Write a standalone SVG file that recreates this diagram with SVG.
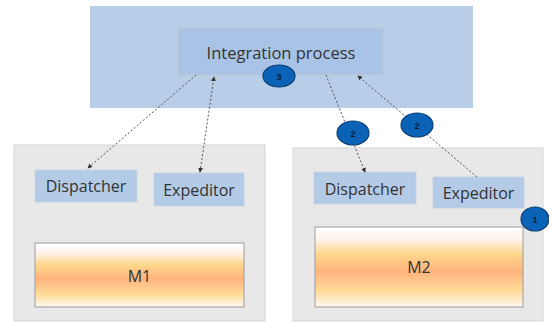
<svg xmlns="http://www.w3.org/2000/svg" width="549" height="322" viewBox="0 0 549 322">
<defs>
<linearGradient id="mg" x1="0" y1="0" x2="0" y2="1">
<stop offset="0" stop-color="#FFFFFF"/>
<stop offset="0.15" stop-color="#FFF3EE"/>
<stop offset="0.34" stop-color="#FFD68C"/>
<stop offset="0.56" stop-color="#FFB47E"/>
<stop offset="0.8" stop-color="#FFDB98"/>
<stop offset="1" stop-color="#FFF8F2"/>
</linearGradient>
<marker id="ah" viewBox="0 0 6 6" refX="5" refY="3" markerWidth="5" markerHeight="5" orient="auto-start-reverse" markerUnits="userSpaceOnUse">
<path d="M0,0 L6,3 L0,6 Z" fill="#333"/>
</marker>
</defs>
<style>
.cont{fill:#E8E8E8;stroke:#D5D5D5;stroke-width:1}
.sm{fill:#B4CBE7;stroke:#C5D3E3;stroke-width:1}
.mb{fill:url(#mg);stroke:#9C9C9C;stroke-width:1}
.t{font-family:"Open Sans","Noto Sans",sans-serif;fill:#333333;text-anchor:middle}
.conn{fill:none;stroke:#555;stroke-width:1;stroke-dasharray:2,2}
.badge{fill:#0A63B7;stroke:#0C3F70;stroke-width:1.2}
.bt{font-family:"Liberation Sans",sans-serif;font-size:9px;font-weight:bold;fill:#0B1C33;text-anchor:middle}
</style>
<rect width="549" height="322" fill="#FFFFFF"/>
<g id="integration-layer">
<rect x="90" y="6" width="383" height="102" fill="#B8CDE8"/>
</g>
<g id="integration-process">
<rect x="178" y="28" width="205" height="47" fill="#A8C3E6" stroke="#BCC7D2" stroke-width="1"/>
<text class="t" x="281" y="59" font-size="16.5">Integration process</text>
</g>
<g id="m1-container">
<rect class="cont" x="14" y="145" width="251" height="176"/>
</g>
<g id="m2-container">
<rect class="cont" x="293" y="148" width="250" height="173"/>
</g>
<g id="dispatcher-1">
<rect class="sm" x="35" y="170" width="102" height="32"/>
<text class="t" x="86" y="192" font-size="16">Dispatcher</text>
</g>
<g id="expeditor-1">
<rect class="sm" x="154" y="173" width="90" height="33"/>
<text class="t" x="199" y="195.5" font-size="16">Expeditor</text>
</g>
<g id="m1">
<rect class="mb" x="35" y="243" width="209" height="64"/>
<text class="t" x="139.5" y="282" font-size="16">M1</text>
</g>
<g id="dispatcher-2">
<rect class="sm" x="314" y="172" width="102" height="32"/>
<text class="t" x="365" y="194.5" font-size="16">Dispatcher</text>
</g>
<g id="expeditor-2">
<rect class="sm" x="433" y="177" width="91" height="31"/>
<text class="t" x="478.5" y="198.5" font-size="16">Expeditor</text>
</g>
<g id="m2">
<rect class="mb" x="315" y="227" width="208" height="80"/>
<text class="t" x="419" y="273" font-size="16">M2</text>
</g>
<g id="connectors">
<line class="conn" x1="196" y1="75" x2="88" y2="168" marker-end="url(#ah)"/>
<line class="conn" x1="200" y1="172" x2="214" y2="77" marker-start="url(#ah)" marker-end="url(#ah)"/>
<line class="conn" x1="326" y1="75" x2="365" y2="172" marker-end="url(#ah)"/>
<line class="conn" x1="477" y1="177" x2="358" y2="76" marker-end="url(#ah)"/>
</g>
<g id="badge-3">
<ellipse class="badge" cx="279" cy="76" rx="16" ry="11"/>
<text class="bt" x="279" y="79.5">3</text>
</g>
<g id="badge-2a">
<ellipse class="badge" cx="353" cy="133" rx="16" ry="12"/>
<text class="bt" x="353" y="136.5">2</text>
</g>
<g id="badge-2b">
<ellipse class="badge" cx="417" cy="125" rx="16" ry="12"/>
<text class="bt" x="417" y="128.5">2</text>
</g>
<g id="badge-1">
<ellipse class="badge" cx="535" cy="219" rx="14" ry="12"/>
<text class="bt" x="535" y="222.5">1</text>
</g>
</svg>
